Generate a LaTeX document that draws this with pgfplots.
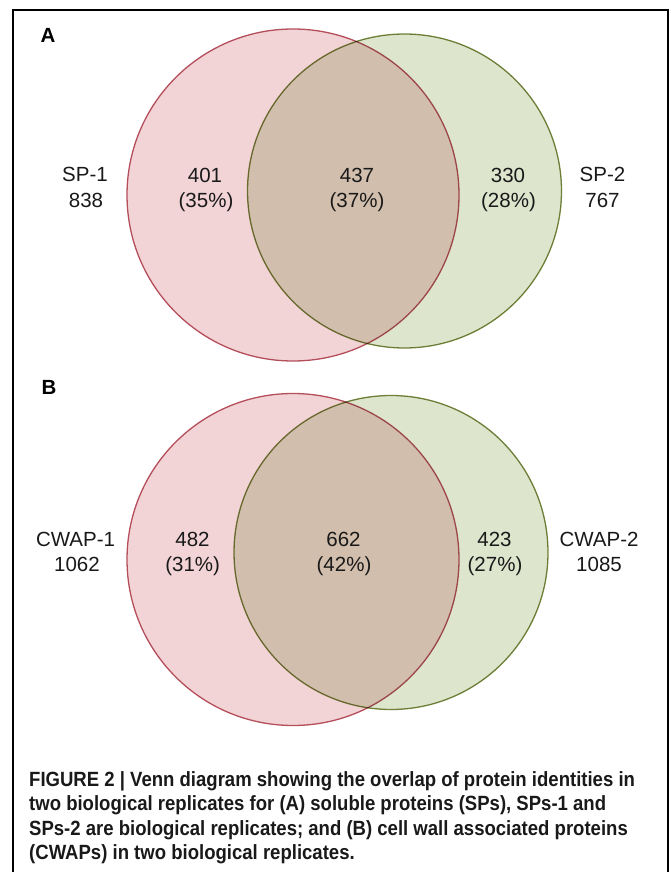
\documentclass[border=0pt]{standalone}
\usepackage{fontspec}
\setmainfont{Liberation Sans}
\newfontfamily\capfont[FakeStretch=0.9]{Liberation Sans}
\usepackage{pgfplots}
\pgfplotsset{compat=1.18}
\definecolor{pinkfill}{RGB}{242,212,214}
\definecolor{pinkline}{RGB}{180,78,90}
\definecolor{greenfill}{RGB}{222,229,205}
\definecolor{greenline}{RGB}{118,134,62}
\definecolor{txt}{RGB}{25,25,25}
\pgfplotsset{pix/.style={width=671pt,height=872pt,scale only axis,
  xmin=0,xmax=671,ymin=0,ymax=872,y dir=reverse,
  hide axis,clip=false,at={(0,0)},anchor=south west}}
\begin{document}
\begin{tikzpicture}
\begin{axis}[pix]
% Panel A and B circles (centres in pixel coordinates)
\addplot[only marks, mark=*, mark size=166,
  mark options={fill=pinkfill, draw=pinkline, line width=1.3pt}]
  coordinates {(293,195) (293,559.5)};
\addplot[only marks, mark=*, mark size=157,
  mark options={fill=greenfill, draw=greenline, line width=1.3pt, blend mode=multiply}]
  coordinates {(404.5,191) (391,552.5)};
\end{axis}
\begin{axis}[pix]
% frame
\draw[line width=2pt, black] (axis cs:12.5,872) -- (axis cs:12.5,10.5) -- (axis cs:668,10.5) -- (axis cs:668,872);
% panel letters
\node[anchor=base, font=\fontsize{20.5}{24}\selectfont\bfseries] at (axis cs:48,43) {A};
\node[anchor=base, font=\fontsize{20.5}{24}\selectfont\bfseries] at (axis cs:49,394) {B};
% panel A labels
\begin{scope}[every node/.style={anchor=base, text=txt, font=\fontsize{20.5}{24}\selectfont}]
\node at (axis cs:85,181) {SP-1};
\node at (axis cs:86,207) {838};
\node at (axis cs:205,182) {401};
\node at (axis cs:206,207) {(35\%)};
\node at (axis cs:357,182) {437};
\node at (axis cs:357,207) {(37\%)};
\node at (axis cs:508,182) {330};
\node at (axis cs:508.5,207) {(28\%)};
\node at (axis cs:602.5,181) {SP-2};
\node at (axis cs:602.5,207) {767};
% panel B labels
\node at (axis cs:75.5,546.5) {CWAP-1};
\node at (axis cs:77,571) {1062};
\node at (axis cs:192.5,546) {482};
\node at (axis cs:192.7,571) {(31\%)};
\node at (axis cs:343.5,546) {662};
\node at (axis cs:344,571) {(42\%)};
\node at (axis cs:494.5,546) {423};
\node at (axis cs:495,571) {(27\%)};
\node at (axis cs:599,546.5) {CWAP-2};
\node at (axis cs:599,571) {1085};
\end{scope}
% caption
\begin{scope}[every node/.style={anchor=base west, inner sep=0pt, text=txt, font=\fontsize{20.6}{24}\capfont\bfseries}]
\node at (axis cs:29,786) {FIGURE 2 | Venn diagram showing the overlap of protein identities in};
\node at (axis cs:29,810.5) {two biological replicates for (A) soluble proteins (SPs), SPs-1 and};
\node at (axis cs:29,835) {SPs-2 are biological replicates; and (B) cell wall associated proteins};
\node at (axis cs:29,859.5) {(CWAPs) in two biological replicates.};
\end{scope}
\end{axis}
\pgfresetboundingbox
\path (0,0) rectangle (671pt,872pt);
\end{tikzpicture}
\end{document}
